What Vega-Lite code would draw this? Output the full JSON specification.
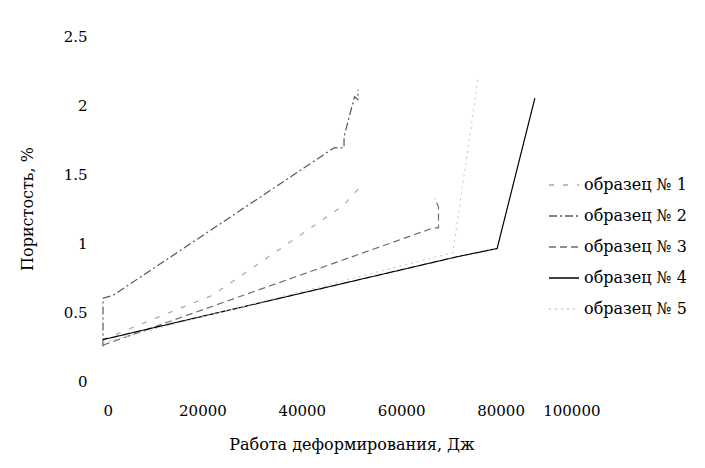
{
  "$schema": "https://vega.github.io/schema/vega-lite/v6.json",
  "autosize": "none",
  "width": 497,
  "height": 345,
  "padding": {"left": 103, "top": 36, "right": 105, "bottom": 87},
  "background": "white",
  "config": {"view": {"stroke": null}, "font": "serif"},
  "data": {"values": [
    {"s": "образец № 1", "o": 1, "x": 0, "y": 0.3},
    {"s": "образец № 1", "o": 2, "x": 15700, "y": 0.53},
    {"s": "образец № 1", "o": 3, "x": 22000, "y": 0.62},
    {"s": "образец № 1", "o": 4, "x": 48300, "y": 1.27},
    {"s": "образец № 1", "o": 5, "x": 52100, "y": 1.42},
    {"s": "образец № 2", "o": 1, "x": 0, "y": 0.25},
    {"s": "образец № 2", "o": 2, "x": 0, "y": 0.6},
    {"s": "образец № 2", "o": 3, "x": 2000, "y": 0.62},
    {"s": "образец № 2", "o": 4, "x": 46500, "y": 1.69},
    {"s": "образец № 2", "o": 5, "x": 48500, "y": 1.69},
    {"s": "образец № 2", "o": 6, "x": 48500, "y": 1.77},
    {"s": "образец № 2", "o": 7, "x": 50600, "y": 2.06},
    {"s": "образец № 2", "o": 8, "x": 51300, "y": 2.04},
    {"s": "образец № 2", "o": 9, "x": 51300, "y": 2.11},
    {"s": "образец № 3", "o": 1, "x": 0, "y": 0.26},
    {"s": "образец № 3", "o": 2, "x": 66500, "y": 1.11},
    {"s": "образец № 3", "o": 3, "x": 67500, "y": 1.11},
    {"s": "образец № 3", "o": 4, "x": 67500, "y": 1.26},
    {"s": "образец № 3", "o": 5, "x": 66800, "y": 1.32},
    {"s": "образец № 4", "o": 1, "x": 0, "y": 0.3},
    {"s": "образец № 4", "o": 2, "x": 71200, "y": 0.9},
    {"s": "образец № 4", "o": 3, "x": 79300, "y": 0.96},
    {"s": "образец № 4", "o": 4, "x": 86900, "y": 2.05},
    {"s": "образец № 5", "o": 1, "x": 0, "y": 0.28},
    {"s": "образец № 5", "o": 2, "x": 70400, "y": 0.93},
    {"s": "образец № 5", "o": 3, "x": 75500, "y": 2.2}
  ]},
  "mark": {"type": "line", "strokeWidth": 1.2},
  "encoding": {
    "x": {"field": "x", "type": "quantitative",
      "scale": {"domain": [0, 100000], "nice": false, "zero": true},
      "axis": {"title": "Работа деформирования, Дж", "values": [0, 20000, 40000, 60000, 80000, 100000], "format": "d",
        "domain": false, "ticks": false, "grid": false, "labelPadding": 22, "labelFontSize": 15, "labelColor": "#000",
        "labelFont": "DejaVu Serif", "titleFont": "DejaVu Serif", "titleFontSize": 16, "titleFontWeight": "normal", "titleColor": "#000", "titlePadding": 18}},
    "y": {"field": "y", "type": "quantitative",
      "scale": {"domain": [0, 2.5], "nice": false},
      "axis": {"title": "Пористость, %", "values": [0, 0.5, 1, 1.5, 2, 2.5], "format": ".1~f",
        "domain": false, "ticks": false, "grid": false, "labelPadding": 16, "labelFontSize": 15, "labelColor": "#000",
        "labelFont": "DejaVu Serif", "titleFont": "DejaVu Serif", "titleFontSize": 16, "titleFontWeight": "normal", "titleColor": "#000", "titlePadding": 28}},
    "order": {"field": "o", "type": "quantitative"},
    "color": {"field": "s", "type": "nominal",
      "scale": {"domain": ["образец № 1", "образец № 2", "образец № 3", "образец № 4", "образец № 5"],
                "range": ["#a8a8a8", "#555555", "#6e6e6e", "#000000", "#cccccc"]},
      "legend": {"title": null, "orient": "none", "legendX": 445, "legendY": 133, "symbolType": "stroke", "symbolSize": 900,
        "symbolStrokeWidth": 1.5, "labelFontSize": 16, "labelFont": "DejaVu Serif", "labelColor": "#000", "rowPadding": 7, "labelOffset": 4, "labelLimit": 200}},
    "strokeDash": {"field": "s", "type": "nominal",
      "scale": {"domain": ["образец № 1", "образец № 2", "образец № 3", "образец № 4", "образец № 5"],
                "range": [[5, 9], [8, 3, 2, 3], [7, 4], [1, 0], [2, 4]]}}
  }
}
